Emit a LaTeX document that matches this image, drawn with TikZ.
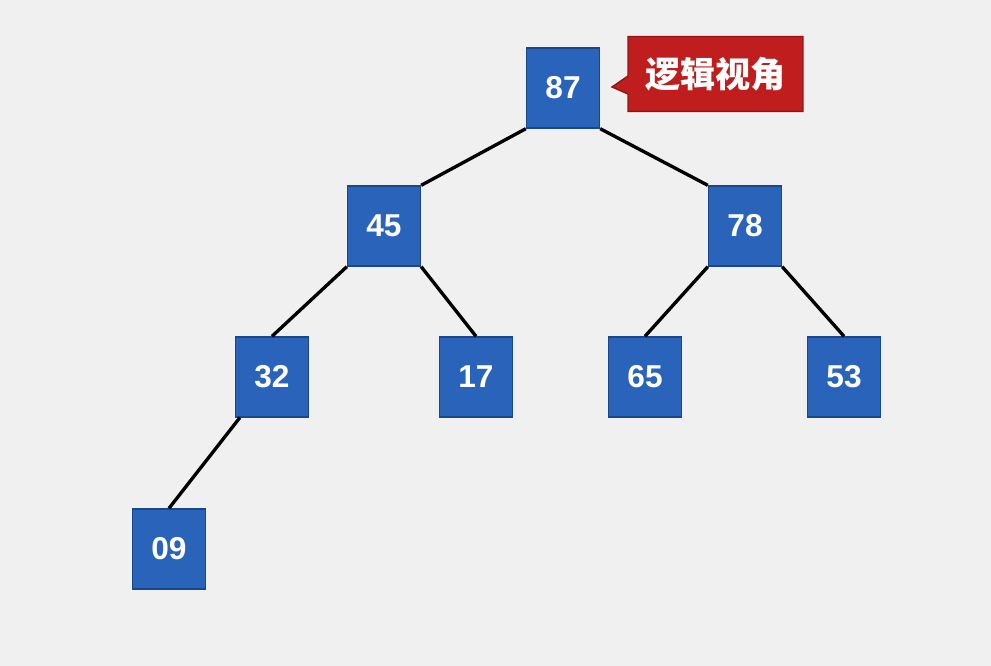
\documentclass[tikz,border=0pt]{standalone}
\usepackage{fontspec}
\setmainfont{Liberation Sans}
\newfontfamily\cjkfont{Noto Sans CJK SC}
\usepackage{tikz}
\usetikzlibrary{shapes.callouts}
\definecolor{pagegrey}{RGB}{240,240,241}
\definecolor{keyblue}{RGB}{42,99,186}
\definecolor{keyedge}{RGB}{26,70,140}
\definecolor{tagred}{RGB}{192,30,30}
\definecolor{tagedge}{RGB}{150,18,18}
\tikzset{
  edge/.style={line width=1.9pt, draw=black},
  keybox/.style={
    draw=keyedge,
    line width=0.8pt,
    fill=keyblue,
    minimum width=1.46cm,
    minimum height=1.6cm,
    inner sep=0pt,
    text=white,
    font=\fontsize{18}{21}\selectfont\bfseries
  },
  tagbox/.style={
    rectangle callout,
    draw=tagedge,
    line width=0.8pt,
    fill=tagred,
    minimum width=3.5cm,
    minimum height=1.5cm,
    inner sep=0pt,
    callout pointer width=0.36cm,
    text=white,
    font=\cjkfont\fontsize{20}{24}\selectfont\bfseries
  }
}
\begin{document}
\begin{tikzpicture}[x=0.02cm,y=-0.02cm]
      \fill[pagegrey] (0,0) rectangle (991,666);
      \useasboundingbox (0,0) rectangle (991,666);

      \node[keybox] (k87) at (563,88) {87};
      \node[keybox] (k45) at (384,226) {45};
      \node[keybox] (k78) at (745,226) {78};
      \node[keybox] (k32) at (272,377) {32};
      \node[keybox] (k17) at (476,377) {17};
      \node[keybox] (k65) at (645,377) {65};
      \node[keybox] (k53) at (844,377) {53};
      \node[keybox] (k09) at (169,549) {09};

      \coordinate (tip) at (612,87);
      \node[tagbox,callout absolute pointer=(tip)] (view) at (715.5,74) {逻辑视角};

      \draw[edge] (k87.south west) -- (k45.north east);
      \draw[edge] (k87.south east) -- (k78.north west);
      \draw[edge] (k45.south west) -- (k32.north);
      \draw[edge] (k45.south east) -- (k17.north);
      \draw[edge] (k78.south west) -- (k65.north);
      \draw[edge] (k78.south east) -- (k53.north);
      \draw[edge] ([xshift=0.1cm]k32.south west) -- (k09.north);
    \end{tikzpicture}
\end{document}
